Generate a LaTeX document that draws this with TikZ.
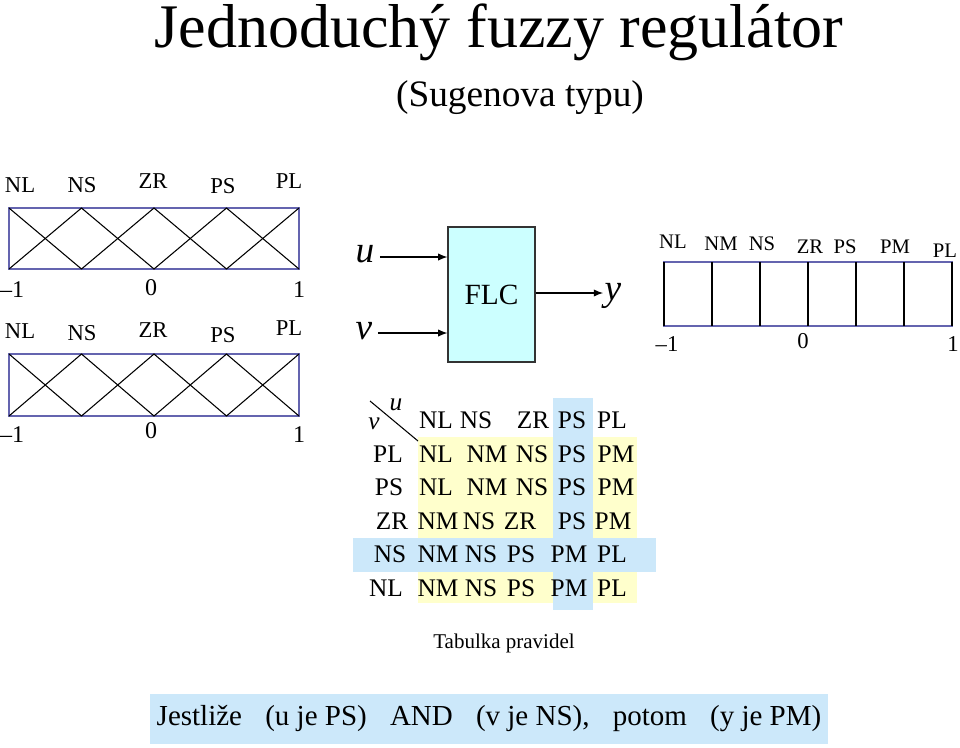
\documentclass[tikz,border=0pt]{standalone}
\usepackage{fontspec}
\setmainfont{Liberation Serif}
\usetikzlibrary{arrows.meta}
\definecolor{frameblue}{RGB}{100,100,175}
\definecolor{cellblue}{RGB}{204,232,250}
\definecolor{cellyellow}{RGB}{255,255,204}
\definecolor{flcfill}{RGB}{204,255,255}
\newcommand{\setfs}[1]{\fontsize{#1pt}{#1pt}\selectfont}
\begin{document}
\begin{tikzpicture}[x=0.75pt,y=-0.75pt,
  lbl/.style={inner sep=0pt, anchor=base},
  frame/.style={draw=frameblue, line width=1pt},
  mf/.style={draw=black, line width=0.8pt},
  arr/.style={-{Latex[length=7pt,width=5.5pt]}, line width=0.9pt},
  mflbl/.style={lbl, font=\setfs{17}},
  num/.style={lbl, font=\setfs{18}},
  rlbl/.style={lbl, font=\setfs{15.5}},
  rnum/.style={lbl, font=\setfs{17}},
  var/.style={inner sep=0pt, font=\setfs{28}\itshape},
  tbl/.style={lbl, font=\setfs{19}}]
\useasboundingbox (0,0) rectangle (960,747);

% titles
\node[lbl, font=\setfs{46.5}] (title) at (499,47) {Jednoduchý fuzzy regulátor};
\node[lbl, font=\setfs{28}] (subtitle) at (520,106) {(Sugenova typu)};

% left membership functions
\foreach \yt/\yb in {208/269, 354/416} {
  \draw[frame] (9,\yt) rectangle (299,\yb);
  \draw[mf] (9,\yt) -- (81.5,\yb) -- (154,\yt) -- (226.5,\yb) -- (299,\yt);
  \draw[mf] (9,\yb) -- (81.5,\yt) -- (154,\yb) -- (226.5,\yt) -- (299,\yb);
}
\node[mflbl] (aNL) at (20,192) {NL};
\node[mflbl] (aNS) at (82,192) {NS};
\node[mflbl] (aZR) at (153,188) {ZR};
\node[mflbl] (aPS) at (223,193) {PS};
\node[mflbl] (aPL) at (289,188) {PL};
\node[num] (am1) at (12,297) {–1};
\node[num] (a0) at (151,295) {0};
\node[num] (a1) at (299,297) {1};
\node[mflbl] (bNL) at (20,338) {NL};
\node[mflbl] (bNS) at (82,340) {NS};
\node[mflbl] (bZR) at (153,337) {ZR};
\node[mflbl] (bPS) at (223,342) {PS};
\node[mflbl] (bPL) at (289,335) {PL};
\node[num] (bm1) at (12,442) {–1};
\node[num] (b0) at (151,438) {0};
\node[num] (b1) at (299,442) {1};

% FLC block
\node[draw=black!80, line width=0.8pt, fill=flcfill, minimum width=65.25pt, minimum height=101.25pt, inner sep=0pt, font=\setfs{22}] (flc) at (491.5,294.5) {FLC};
\node[var] (u) at (365,254) {u};
\node[var] (v) at (364,331) {v};
\node[lbl, font=\setfs{28}\itshape] (y) at (613,300) {y};
\coordinate (uy) at (0,257);
\coordinate (vy) at (0,333);
\coordinate (yy) at (0,293);
\draw[arr, shorten <=4pt] (u.east |- uy) -- (flc.west |- uy);
\draw[arr, shorten <=4pt] (v.east |- vy) -- (flc.west |- vy);
\draw[arr, shorten >=1pt] (flc.east |- yy) -- (y.west |- yy);

% right singletons
\draw[frame] (664,262) rectangle (952,326);
\foreach \k in {0,...,6} \draw[mf] (664+48*\k,262) -- (664+48*\k,326);
\node[rlbl] (cNL) at (673,248) {NL};
\node[rlbl] (cNM) at (721,250) {NM};
\node[rlbl] (cNS) at (762,250) {NS};
\node[rlbl] (cZR) at (810,253) {ZR};
\node[rlbl] (cPS) at (845,253) {PS};
\node[rlbl] (cPM) at (895,253) {PM};
\node[rlbl] (cPL) at (945,257) {PL};
\node[rnum] (cm1) at (667,351) {–1};
\node[rnum] (c0) at (803,348) {0};
\node[rnum] (c1) at (953,351) {1};

% rule table
\fill[cellyellow] (418,437) rectangle (637,603);
\fill[cellblue] (553,398) rectangle (593,610);
\fill[cellblue] (353,538) rectangle (656,572);
\draw[line width=0.8pt] (370,401) -- (418,441);
\node[inner sep=0pt, font=\setfs{19}\itshape] (tu) at (396,405) {u};
\node[inner sep=0pt, font=\setfs{19}\itshape] (tv) at (374,424) {v};
\foreach \t/\x [count=\i] in {NL/436, NS/476, ZR/533, PS/572, PL/612}
  \node[tbl] (h\i) at (\x,428) {\t};
\foreach \t/\x [count=\i] in {PL/388, NL/436, NM/487, NS/532, PS/572, PM/616}
  \node[tbl] (ra\i) at (\x,462) {\t};
\foreach \t/\x [count=\i] in {PS/389, NL/436, NM/487, NS/532, PS/572, PM/616}
  \node[tbl] (rb\i) at (\x,495) {\t};
\foreach \t/\x [count=\i] in {ZR/392, NM/438, NS/479, ZR/520, PS/572, PM/613}
  \node[tbl] (rc\i) at (\x,529) {\t};
\foreach \t/\x [count=\i] in {NS/390, NM/438, NS/481, PS/521, PM/569, PL/612}
  \node[tbl] (rd\i) at (\x,562) {\t};
\foreach \t/\x [count=\i] in {NL/386, NM/438, NS/481, PS/521, PM/569, PL/612}
  \node[tbl] (re\i) at (\x,596) {\t};
\node[lbl, font=\setfs{15.75}] (tab) at (504,648) {Tabulka pravidel};

% rule example
\node[fill=cellblue, minimum width=508.5pt, minimum height=37.5pt, inner sep=0pt, font=\setfs{21.75}] (rule) at (489,719)
  {Jestliže\hspace{0.8em}(u je PS)\hspace{0.8em}AND\hspace{0.8em}(v je NS),\hspace{0.8em}potom\hspace{0.8em}(y je PM)};
\end{tikzpicture}
\end{document}
